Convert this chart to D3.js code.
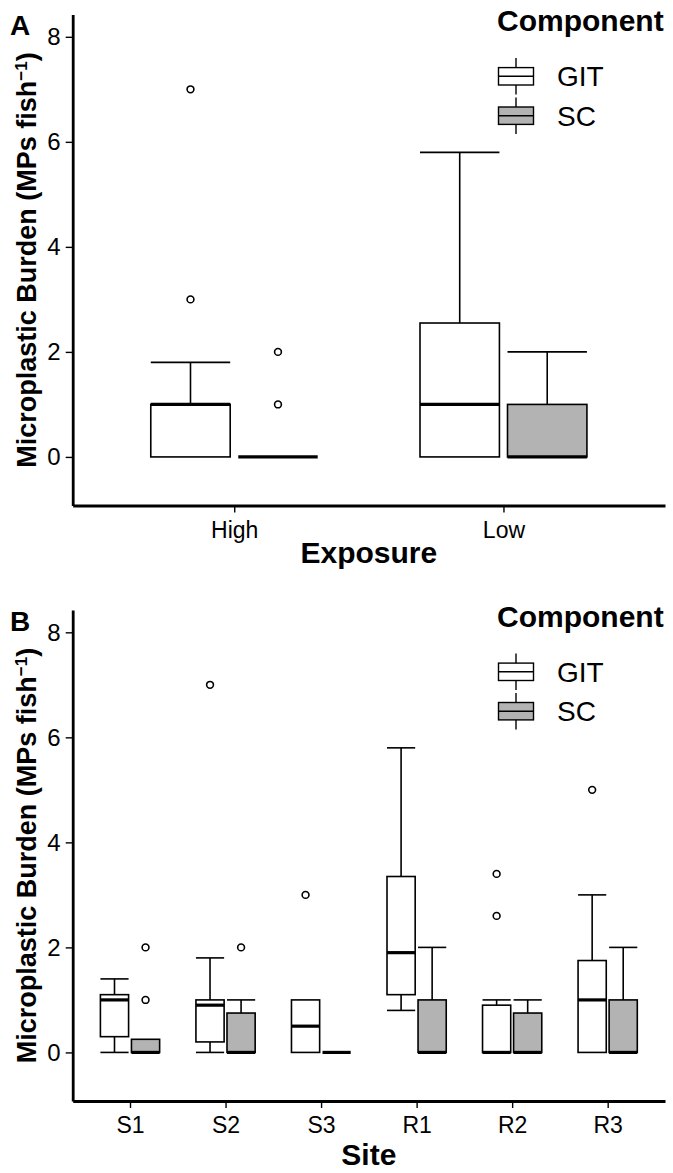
<!DOCTYPE html>
<html>
<head>
<meta charset="utf-8">
<script src="https://cdn.jsdelivr.net/npm/d3@7"></script>
<style>
  body { margin: 0; background: #fff; }
  text { font-family: "Liberation Sans", Arial, sans-serif; fill: #000; }
</style>
</head>
<body>
<svg width="673" height="1173"></svg>
<script>
// categories
var exposures = ["High", "Low"];
var sites = ["S1", "S2", "S3", "R1", "R2", "R3"];
var components = ["GIT", "SC"];
var yTicks = [0, 2, 4, 6, 8];

// box stats: [lower whisker, Q1, median, Q3, upper whisker]
var exposureGIT = [[0, 0, 1, 1, 1.8], [0, 0, 1, 2.55, 5.8]];
var exposureSC  = [[0, 0, 0, 0, 0], [0, 0, 0, 1, 2]];
var exposureGITOut = [[3, 7], []];
var exposureSCOut  = [[1, 2], []];

var siteGIT = [[0, 0.3, 1, 1.1, 1.4], [0, 0.2, 0.9, 1, 1.8], [0, 0, 0.5, 1, 1],
               [0.8, 1.1, 1.9, 3.35, 5.8], [0, 0, 0, 0.9, 1], [0, 0, 1, 1.75, 3]];
var siteSC  = [[0, 0, 0, 0.25, 0.25], [0, 0, 0, 0.75, 1], [0, 0, 0, 0, 0],
               [0, 0, 0, 1, 2], [0, 0, 0, 0.75, 1], [0, 0, 0, 1, 2]];
var siteGITOut = [[], [7], [3], [], [2.6, 3.4], [5]];
var siteSCOut  = [[1, 2], [2], [], [], [], []];

var fills = {GIT: "#ffffff", SC: "#b3b3b3"};

var svg = d3.select("svg");
var left = 72.7, right = 665;

function drawPanel(top, cats, git, sc, gitOut, scOut, xTitle, titleY, letter) {
  var g = svg.append("g").attr("transform", "translate(0," + top + ")");

  var x = d3.scalePoint().domain(cats).range([left, right]).padding(0.6);
  var step = x.step();
  var y = d3.scaleLinear().domain([-0.925, 8.425]).range([505.5, 14.5]);
  var offset = {GIT: -0.1625 * step, SC: 0.1625 * step};
  var bw = 0.295 * step;

  var rows = [];
  cats.forEach(function(c, i) {
    rows.push({cat: c, comp: "GIT", s: git[i], out: gitOut[i]});
    rows.push({cat: c, comp: "SC", s: sc[i], out: scOut[i]});
  });

  var box = g.selectAll(".box").data(rows).enter().append("g")
      .attr("class", "box")
      .attr("transform", function(d) { return "translate(" + (x(d.cat) + offset[d.comp]) + ",0)"; });

  // whiskers + caps
  box.append("line")
      .attr("y1", function(d) { return y(d.s[3]); })
      .attr("y2", function(d) { return y(d.s[4]); })
      .attr("stroke", "#000").attr("stroke-width", 1.6);
  box.append("line")
      .attr("y1", function(d) { return y(d.s[1]); })
      .attr("y2", function(d) { return y(d.s[0]); })
      .attr("stroke", "#000").attr("stroke-width", 1.6);
  box.filter(function(d) { return d.s[4] > d.s[3]; }).append("line")
      .attr("x1", -bw / 2).attr("x2", bw / 2)
      .attr("y1", function(d) { return y(d.s[4]); })
      .attr("y2", function(d) { return y(d.s[4]); })
      .attr("stroke", "#000").attr("stroke-width", 1.6);
  box.filter(function(d) { return d.s[0] < d.s[1]; }).append("line")
      .attr("x1", -bw / 2).attr("x2", bw / 2)
      .attr("y1", function(d) { return y(d.s[0]); })
      .attr("y2", function(d) { return y(d.s[0]); })
      .attr("stroke", "#000").attr("stroke-width", 1.6);

  box.append("rect")
      .attr("x", -bw / 2).attr("width", bw)
      .attr("y", function(d) { return y(d.s[3]); })
      .attr("height", function(d) { return y(d.s[1]) - y(d.s[3]); })
      .attr("fill", function(d) { return fills[d.comp]; })
      .attr("stroke", "#000").attr("stroke-width", 1.6);

  box.append("line")
      .attr("x1", -bw / 2).attr("x2", bw / 2)
      .attr("y1", function(d) { return y(d.s[2]); })
      .attr("y2", function(d) { return y(d.s[2]); })
      .attr("stroke", "#000").attr("stroke-width", 3.2);

  box.selectAll("circle").data(function(d) { return d.out; }).enter().append("circle")
      .attr("cy", function(v) { return y(v); })
      .attr("r", 3.4)
      .attr("fill", "none").attr("stroke", "#000").attr("stroke-width", 1.6);

  // axes
  var ya = g.append("g").attr("transform", "translate(" + left + ",0)")
      .call(d3.axisLeft(y).tickValues(yTicks).tickSize(7).tickPadding(5).tickSizeOuter(0));
  ya.selectAll("text").style("font-size", "24px");
  var xa = g.append("g").attr("transform", "translate(0," + y.range()[0] + ")")
      .call(d3.axisBottom(x).tickSize(7).tickPadding(9).tickSizeOuter(0));
  xa.selectAll("text").style("font-size", "23px");
  [ya, xa].forEach(function(a) {
    a.select(".domain").attr("stroke-width", 2.8);
    a.selectAll(".tick line").attr("stroke-width", 1.4);
  });

  g.append("text")
      .attr("x", (left + right) / 2).attr("y", titleY)
      .attr("text-anchor", "middle")
      .style("font-size", "30px").style("font-weight", "bold")
      .text(xTitle);

  var yt = g.append("text")
      .attr("transform", "translate(36," + ((14.5 + 505.5) / 2) + ") rotate(-90)")
      .attr("text-anchor", "middle")
      .style("font-size", "27px").style("font-weight", "bold");
  yt.append("tspan").text("Microplastic Burden (MPs fish");
  yt.append("tspan").attr("dy", -9).style("font-size", "17px").text("\u2212" + "1");
  yt.append("tspan").attr("dy", 9).text(")");

  g.append("text")
      .attr("x", 10).attr("y", 35)
      .style("font-size", "28px").style("font-weight", "bold")
      .text(letter);

  // legend
  var lg = g.append("g").attr("transform", "translate(497,0)");
  lg.append("text").attr("x", 0).attr("y", 31)
      .style("font-size", "30px").style("font-weight", "bold")
      .text("Component");
  var key = lg.selectAll(".key").data(components).enter().append("g")
      .attr("class", "key")
      .attr("transform", function(d, i) { return "translate(0," + (76.3 + i * 39.4) + ")"; });
  key.append("line").attr("x1", 19).attr("x2", 19).attr("y1", -18.3).attr("y2", 18.3)
      .attr("stroke", "#000").attr("stroke-width", 1.4);
  key.append("rect").attr("x", 1.5).attr("y", -8.7).attr("width", 35).attr("height", 17.4)
      .attr("fill", function(d) { return fills[d]; })
      .attr("stroke", "#000").attr("stroke-width", 1.4);
  key.append("line").attr("x1", 1.5).attr("x2", 36.5).attr("y1", 0).attr("y2", 0)
      .attr("stroke", "#000").attr("stroke-width", 1.4);
  key.append("text").attr("x", 60).attr("y", 10)
      .style("font-size", "28px")
      .text(function(d) { return d; });
}

drawPanel(0, exposures, exposureGIT, exposureSC, exposureGITOut, exposureSCOut, "Exposure", 563, "A");
drawPanel(595.5, sites, siteGIT, siteSC, siteGITOut, siteSCOut, "Site", 569, "B");
</script>
</body>
</html>
